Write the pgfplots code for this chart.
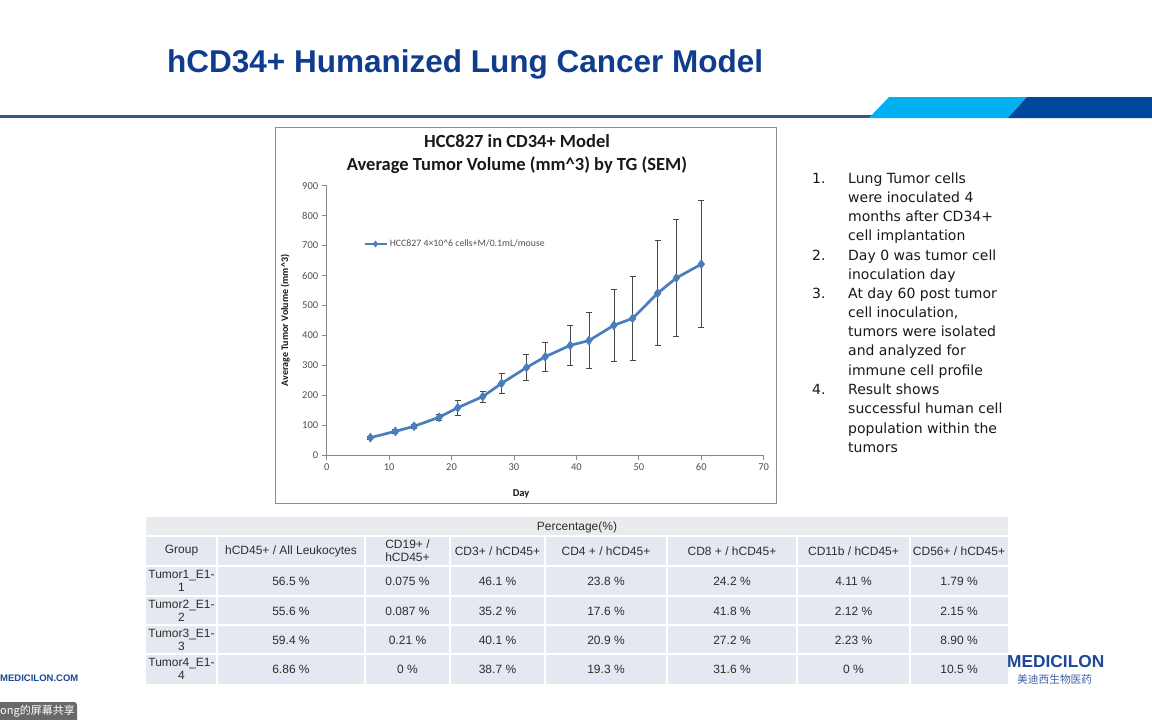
\documentclass[border=0pt]{standalone}
\usepackage{fontspec}
\setmainfont{Carlito}
\newfontfamily\arialf{Liberation Sans}
\newfontfamily\listf{DejaVu Sans}
\newfontfamily\cjk{Noto Sans CJK SC}
\usepackage{pgfplots}
\pgfplotsset{compat=1.18}
\usepackage{pgfplotstable}

\definecolor{titleblue}{RGB}{15,60,140}
\definecolor{lineblue}{RGB}{55,85,135}
\definecolor{lightblue}{RGB}{0,176,240}
\definecolor{darkblue}{RGB}{0,72,158}
\definecolor{framegray}{RGB}{140,140,140}
\definecolor{axisgray}{RGB}{134,134,134}
\definecolor{tickgray}{RGB}{80,80,80}
\definecolor{serieblue}{RGB}{74,126,187}
\definecolor{errgray}{RGB}{70,70,70}
\definecolor{topbg}{RGB}{233,235,239}
\definecolor{cellbg}{RGB}{228,232,240}
\definecolor{celltext}{RGB}{45,45,45}
\definecolor{logoblue}{RGB}{28,72,150}
\definecolor{sharegray}{RGB}{105,105,105}

\pgfplotstableread{
day vol err
7 59 5
11 80 8
14 97 6
18 127 10
21 159 25
25 196 19
28 240 32
32 293 43
35 329 49
39 367 66
42 383 94
46 434 120
49 457 139
53 541 175
56 592 194
60 638 212
}\tumordata

\newcommand\tcell[3]{\node[font=\arialf\fontsize{12}{13}\selectfont, text=celltext, align=center, inner sep=0pt] at (#1pt,-#2pt) {#3};}
\newcommand\lline[3]{\node[anchor=west, inner sep=0pt, text height=10.5pt, text depth=3pt, font=\listf\fontsize{14}{16}\selectfont, text=black!90] at (#1pt,-#2pt) {#3};}

\begin{document}
\begin{tikzpicture}
\path[use as bounding box, fill=white] (0pt,0pt) rectangle (1152pt,-720pt);

% slide title and header decoration
\node[anchor=west, inner sep=0pt, text=titleblue, font=\arialf\bfseries\fontsize{31.5}{36}\selectfont] at (167pt,-64pt) {hCD34+ Humanized Lung Cancer Model};
\draw[line width=2.5pt, color=lineblue] (0pt,-116.5pt) -- (872pt,-116.5pt);
\fill[lightblue] (869pt,-118pt) -- (889pt,-97pt) -- (1027pt,-97pt) -- (1008pt,-118pt) -- cycle;
\fill[darkblue] (1008pt,-118pt) -- (1027pt,-97pt) -- (1152pt,-97pt) -- (1152pt,-118pt) -- cycle;

% chart frame and titles
\draw[framegray, line width=0.8pt] (275pt,-127pt) rectangle (776pt,-503pt);
\node[font=\bfseries\fontsize{18.5}{22}\selectfont, text=black!90] at (517pt,-141pt) {HCC827 in CD34+ Model};
\node[font=\bfseries\fontsize{18.5}{22}\selectfont, text=black!90] at (517pt,-165pt) {Average Tumor Volume (mm\textasciicircum3) by TG (SEM)};

\begin{axis}[
  at={(326.7pt,-455.3pt)}, anchor=south west,
  scale only axis, width=437pt, height=269.6pt,
  xmin=0, xmax=70, ymin=0, ymax=900,
  axis lines=left,
  axis line style={-, draw=axisgray, line width=0.8pt},
  tick align=outside, major tick length=5pt,
  tick style={draw=axisgray, line width=0.8pt},
  xtick={0,10,...,70}, ytick={0,100,...,900},
  tick label style={font=\fontsize{10.5}{12}\selectfont, text=tickgray},
  /pgf/number format/assume math mode=true,
  xlabel={Day},
  ylabel={Average Tumor Volume (mm\textasciicircum3)},
  xlabel style={at={(axis description cs:0.445,-0.1435)}, anchor=center, font=\bfseries\fontsize{10.5}{12}\selectfont, text=black!90},
  ylabel style={at={(axis description cs:-0.095,0.5)}, anchor=center, font=\bfseries\fontsize{10}{12}\selectfont, text=black!90},
  legend style={at={(axis description cs:0.083,0.784)}, anchor=west, draw=none, fill=none,
    font=\fontsize{9.8}{11}\selectfont, text=tickgray, inner sep=0pt},
  legend cell align=left,
  legend image code/.code={\draw[mark repeat=2, mark phase=2, #1, mark size=3pt] plot coordinates {(0pt,0pt) (11pt,0pt) (22pt,0pt)};},
  clip=false,
]
\addplot[color=serieblue, line width=2.7pt, mark=diamond*, mark size=4.5pt,
  mark options={solid, fill=serieblue, line width=0.5pt},
  error bars/.cd, y dir=both, y explicit,
  error bar style={line width=0.75pt, color=errgray},
  error mark options={rotate=90, mark size=3pt, line width=0.75pt, color=errgray}]
  table[x=day, y=vol, y error=err] {\tumordata};
\addlegendentry{HCC827 4×10\textasciicircum6 cells+M/0.1mL/mouse}
\end{axis}

% numbered list
\lline{812}{180}{1.}  \lline{848}{180}{Lung Tumor cells}
\lline{848}{199}{were inoculated 4}
\lline{848}{218}{months after CD34+}
\lline{848}{237}{cell implantation}
\lline{812}{257}{2.}  \lline{848}{257}{Day 0 was tumor cell}
\lline{848}{276}{inoculation day}
\lline{812}{295}{3.}  \lline{848}{295}{At day 60 post tumor}
\lline{848}{314}{cell inoculation,}
\lline{848}{333}{tumors were isolated}
\lline{848}{352}{and analyzed for}
\lline{848}{372}{immune cell profile}
\lline{812}{391}{4.}  \lline{848}{391}{Result shows}
\lline{848}{410}{successful human cell}
\lline{848}{430}{population within the}
\lline{848}{449}{tumors}

% table
\fill[topbg] (146pt,-517pt) rectangle (1008pt,-536pt);
\fill[cellbg] (146pt,-536pt) rectangle (1008pt,-684pt);
\foreach \yy in {536,566,596,625,654} {\draw[white, line width=2pt] (146pt,-\yy pt) -- (1008pt,-\yy pt);}
\foreach \xx in {217,365,450,545,667,797,910} {\draw[white, line width=2pt] (\xx pt,-536pt) -- (\xx pt,-684pt);}
\tcell{577}{527}{Percentage(\%)}
\tcell{181.5}{551}{Group}
\tcell{291}{551}{hCD45+ / All Leukocytes}
\tcell{407.5}{551}{CD19+ /\\hCD45+}
\tcell{497.5}{551}{CD3+ / hCD45+}
\tcell{606}{551}{CD4 + / hCD45+}
\tcell{732}{551}{CD8 + / hCD45+}
\tcell{853.5}{551}{CD11b / hCD45+}
\tcell{959}{551}{CD56+ / hCD45+}
%
\tcell{181.5}{581}{Tumor1\_E1-\\1}
\tcell{291}{581}{56.5 \%}
\tcell{407.5}{581}{0.075 \%}
\tcell{497.5}{581}{46.1 \%}
\tcell{606}{581}{23.8 \%}
\tcell{732}{581}{24.2 \%}
\tcell{853.5}{581}{4.11 \%}
\tcell{959}{581}{1.79 \%}
%
\tcell{181.5}{611}{Tumor2\_E1-\\2}
\tcell{291}{611}{55.6 \%}
\tcell{407.5}{611}{0.087 \%}
\tcell{497.5}{611}{35.2 \%}
\tcell{606}{611}{17.6 \%}
\tcell{732}{611}{41.8 \%}
\tcell{853.5}{611}{2.12 \%}
\tcell{959}{611}{2.15 \%}
%
\tcell{181.5}{640}{Tumor3\_E1-\\3}
\tcell{291}{640}{59.4 \%}
\tcell{407.5}{640}{0.21 \%}
\tcell{497.5}{640}{40.1 \%}
\tcell{606}{640}{20.9 \%}
\tcell{732}{640}{27.2 \%}
\tcell{853.5}{640}{2.23 \%}
\tcell{959}{640}{8.90 \%}
%
\tcell{181.5}{669}{Tumor4\_E1-\\4}
\tcell{291}{669}{6.86 \%}
\tcell{407.5}{669}{0 \%}
\tcell{497.5}{669}{38.7 \%}
\tcell{606}{669}{19.3 \%}
\tcell{732}{669}{31.6 \%}
\tcell{853.5}{669}{0 \%}
\tcell{959}{669}{10.5 \%}

% footer
\node[anchor=west, inner sep=0pt, text=logoblue, font=\arialf\bfseries\fontsize{9.5}{11}\selectfont] at (0pt,-678pt) {MEDICILON.COM};
\fill[sharegray, rounded corners=3pt] (-5pt,-702pt) rectangle (77pt,-725pt);
\node[anchor=west, inner sep=0pt, text=white, font=\cjk\fontsize{11}{13}\selectfont] at (0pt,-711pt) {ong的屏幕共享};
\node[anchor=west, inner sep=0pt, text=logoblue, font=\arialf\bfseries\fontsize{17.3}{20}\selectfont] at (1007pt,-662pt) {MEDICILON};
\node[anchor=west, inner sep=0pt, text=logoblue!85, font=\cjk\fontsize{10.7}{12}\selectfont] at (1017pt,-679pt) {美迪西生物医药};
\end{tikzpicture}
\end{document}
